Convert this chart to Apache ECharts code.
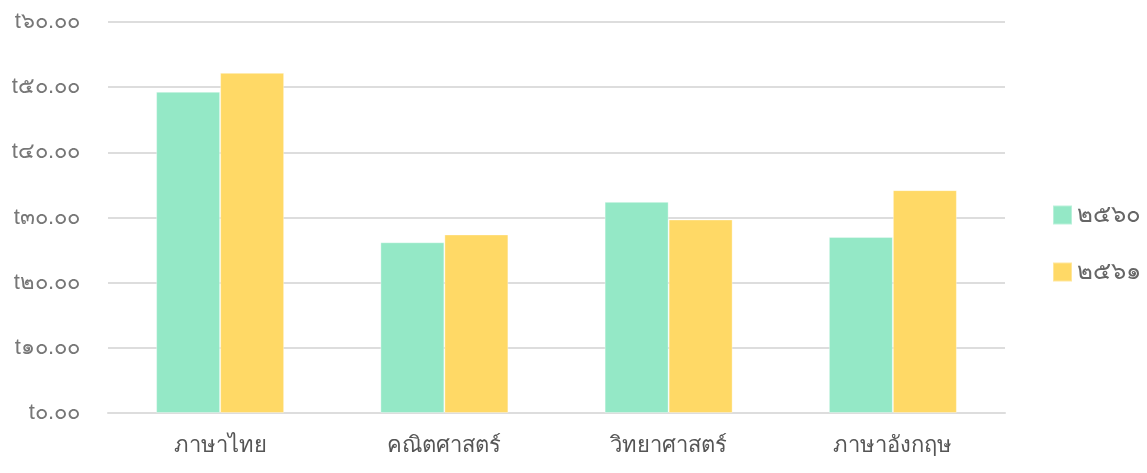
<!DOCTYPE html>
<html><head><meta charset="utf-8">
<script src="https://cdn.jsdelivr.net/npm/echarts@6/dist/echarts.min.js"></script>
<style>html,body{margin:0;padding:0;background:#fff}#c{width:1147px;height:473px}</style>
</head><body><div id="c"></div>
<script>
var categories = ['ภาษาไทย', 'คณิตศาสตร์', 'วิทยาศาสตร์', 'ภาษาอังกฤษ'];
var seriesNames = ['๒๕๖๐', '๒๕๖๑'];
var values2560 = [49.3, 26.2, 32.4, 27.0];
var values2561 = [52.2, 27.4, 29.7, 34.2];
var yTickValues = [0, 10, 20, 30, 40, 50, 60];
var yTickLabels = ['t๐.๐๐', 't๑๐.๐๐', 't๒๐.๐๐', 't๓๐.๐๐', 't๔๐.๐๐', 't๕๐.๐๐', 't๖๐.๐๐'];

var chart = echarts.init(document.getElementById('c'));
chart.setOption({
  animation: false,
  color: ['#94e8c6', '#ffd966'],
  grid: { left: 108, right: 142, top: 22, bottom: 60 },
  legend: {
    orient: 'vertical', left: 1047, top: 198,
    itemWidth: 19, itemHeight: 19, itemGap: 33,
    icon: 'rect',
    textStyle: { fontSize: 24, color: '#666', lineHeight: 19 },
    data: seriesNames
  },
  xAxis: {
    type: 'category', data: categories,
    axisLine: { lineStyle: { color: '#ddd', width: 2 } },
    axisTick: { show: false },
    axisLabel: { fontSize: 22, color: '#555', margin: 22 }
  },
  yAxis: {
    type: 'value', min: 0, max: 60, interval: 10,
    axisLine: { show: false }, axisTick: { show: false },
    splitLine: { lineStyle: { color: '#ddd', width: 2 } },
    axisLabel: {
      fontSize: 22, color: '#777', margin: 28,
      formatter: function (v) { var i = yTickValues.indexOf(v); return i >= 0 ? yTickLabels[i] : ''; }
    }
  },
  series: [
    { name: seriesNames[0], type: 'bar', data: values2560, barWidth: 64, barGap: '0%',
      itemStyle: { borderColor: 'rgba(255,255,255,0.35)', borderWidth: 1 } },
    { name: seriesNames[1], type: 'bar', data: values2561, barWidth: 64, barGap: '0%',
      itemStyle: { borderColor: 'rgba(255,255,255,0.35)', borderWidth: 1 } }
  ]
});
</script></body></html>
